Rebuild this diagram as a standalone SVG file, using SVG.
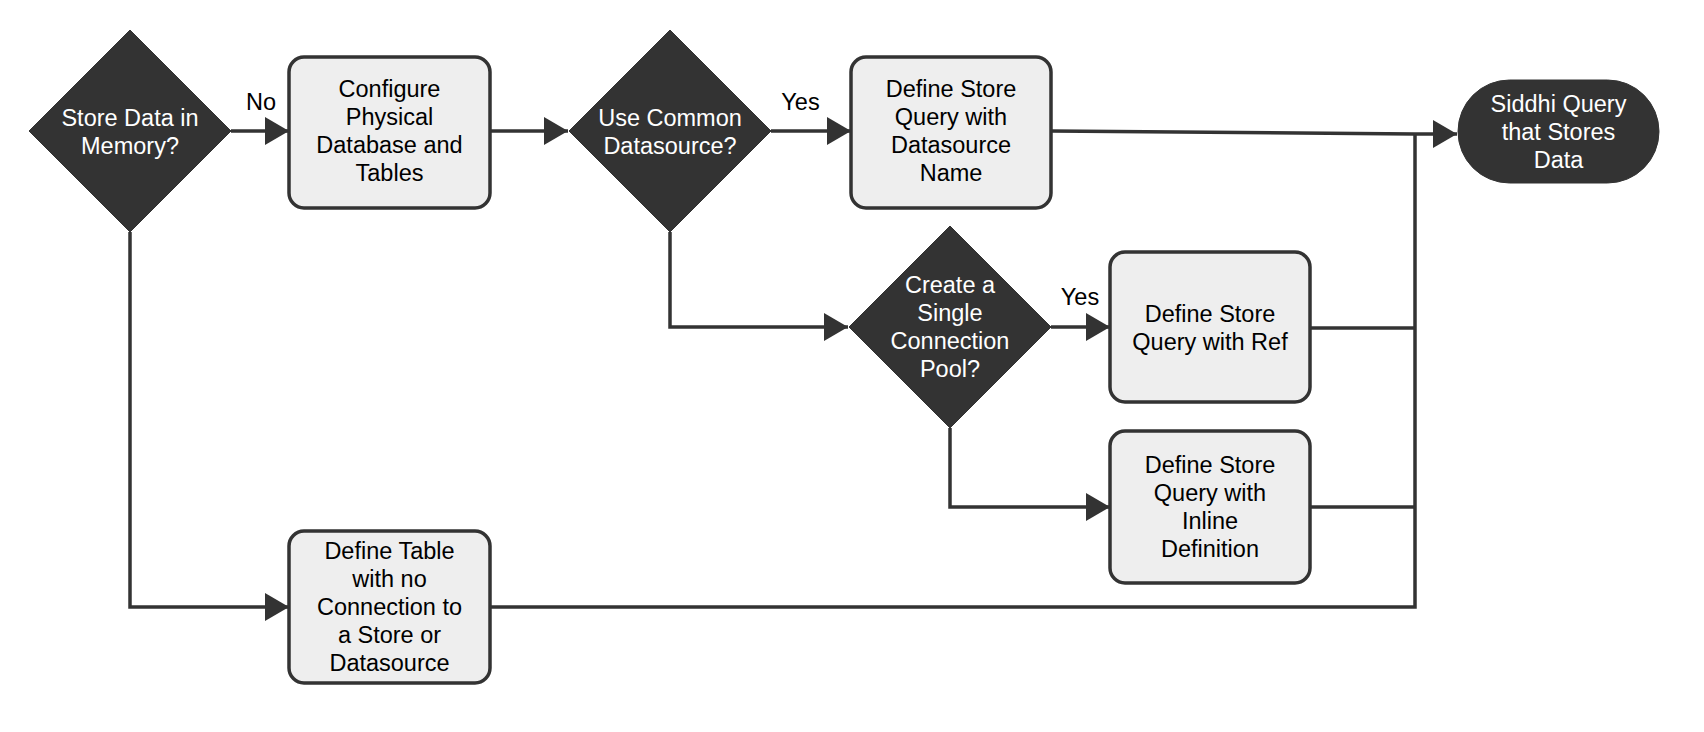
<svg xmlns="http://www.w3.org/2000/svg" width="1704" height="732" viewBox="0 0 1704 732">
<style>
  .box { fill: #eeeeee; stroke: #333333; stroke-width: 3.5; }
  .dark { fill: #333333; stroke: #333333; stroke-width: 1; }
  .t { font-family: "Liberation Sans", Arial, sans-serif; font-size: 23.5px; text-anchor: middle; fill: #000000; }
  .tw { font-family: "Liberation Sans", Arial, sans-serif; font-size: 23.5px; text-anchor: middle; fill: #ffffff; }
  .edge { fill: none; stroke: #333333; stroke-width: 3.5; }
</style>
<defs>
  <marker id="arr" viewBox="0 0 24 28" refX="24" refY="14" markerWidth="24" markerHeight="28" markerUnits="userSpaceOnUse" orient="auto">
    <path d="M0,0 L24,14 L0,28 Z" fill="#333333"/>
  </marker>
</defs>
<rect width="1704" height="732" fill="#ffffff"/>

<g id="connectors">
  <path class="edge" d="M231,131 L289,131" marker-end="url(#arr)"/>
  <path class="edge" d="M490,131 L568,131" marker-end="url(#arr)"/>
  <path class="edge" d="M771,131 L851,131" marker-end="url(#arr)"/>
  <path class="edge" d="M670,232 L670,327 L848,327" marker-end="url(#arr)"/>
  <path class="edge" d="M1051,327 L1110,327" marker-end="url(#arr)"/>
  <path class="edge" d="M950,428 L950,507 L1110,507" marker-end="url(#arr)"/>
  <path class="edge" d="M130,232 L130,607 L289,607" marker-end="url(#arr)"/>
  <path class="edge" d="M1051,131 L1415,134 L1457,134" marker-end="url(#arr)"/>
  <path class="edge" d="M1415,134 L1415,607 L490,607"/>
  <path class="edge" d="M1310,328 L1415,328"/>
  <path class="edge" d="M1310,507 L1415,507"/>
  <text class="t" x="261" y="109.5">No</text>
  <text class="t" x="800.5" y="110">Yes</text>
  <text class="t" x="1080" y="305">Yes</text>
</g>

<g id="d1">
  <polygon class="dark" points="130,30 231,131 130,232 29,131"/>
  <text class="tw" x="130" y="125.5">Store Data in</text>
  <text class="tw" x="130" y="153.5">Memory?</text>
</g>

<g id="box1">
  <rect class="box" x="289" y="57" width="201" height="151" rx="15" ry="15"/>
  <text class="t" x="389.5" y="97.3">Configure</text>
  <text class="t" x="389.5" y="125.3">Physical</text>
  <text class="t" x="389.5" y="153.3">Database and</text>
  <text class="t" x="389.5" y="181.3">Tables</text>
</g>

<g id="d2">
  <polygon class="dark" points="670,30 771,131 670,232 569,131"/>
  <text class="tw" x="670" y="125.5">Use Common</text>
  <text class="tw" x="670" y="153.5">Datasource?</text>
</g>

<g id="box3">
  <rect class="box" x="851" y="57" width="200" height="151" rx="15" ry="15"/>
  <text class="t" x="951" y="97.3">Define Store</text>
  <text class="t" x="951" y="125.3">Query with</text>
  <text class="t" x="951" y="153.3">Datasource</text>
  <text class="t" x="951" y="181.3">Name</text>
</g>

<g id="terminal">
  <rect class="dark" x="1458" y="80" width="201" height="103" rx="51.5" ry="51.5"/>
  <text class="tw" x="1558.5" y="111.7">Siddhi Query</text>
  <text class="tw" x="1558.5" y="139.7">that Stores</text>
  <text class="tw" x="1558.5" y="167.7">Data</text>
</g>

<g id="d3">
  <polygon class="dark" points="950,226 1051,327 950,428 849,327"/>
  <text class="tw" x="950" y="293">Create a</text>
  <text class="tw" x="950" y="321">Single</text>
  <text class="tw" x="950" y="349">Connection</text>
  <text class="tw" x="950" y="377">Pool?</text>
</g>

<g id="box4">
  <rect class="box" x="1110" y="252" width="200" height="150" rx="15" ry="15"/>
  <text class="t" x="1210" y="321.5">Define Store</text>
  <text class="t" x="1210" y="349.5">Query with Ref</text>
</g>

<g id="box5">
  <rect class="box" x="1110" y="431" width="200" height="152" rx="15" ry="15"/>
  <text class="t" x="1210" y="473">Define Store</text>
  <text class="t" x="1210" y="501">Query with</text>
  <text class="t" x="1210" y="529">Inline</text>
  <text class="t" x="1210" y="557">Definition</text>
</g>

<g id="box6">
  <rect class="box" x="289" y="531" width="201" height="152" rx="15" ry="15"/>
  <text class="t" x="389.5" y="558.5">Define Table</text>
  <text class="t" x="389.5" y="586.5">with no</text>
  <text class="t" x="389.5" y="614.5">Connection to</text>
  <text class="t" x="389.5" y="642.5">a Store or</text>
  <text class="t" x="389.5" y="670.5">Datasource</text>
</g>
</svg>
